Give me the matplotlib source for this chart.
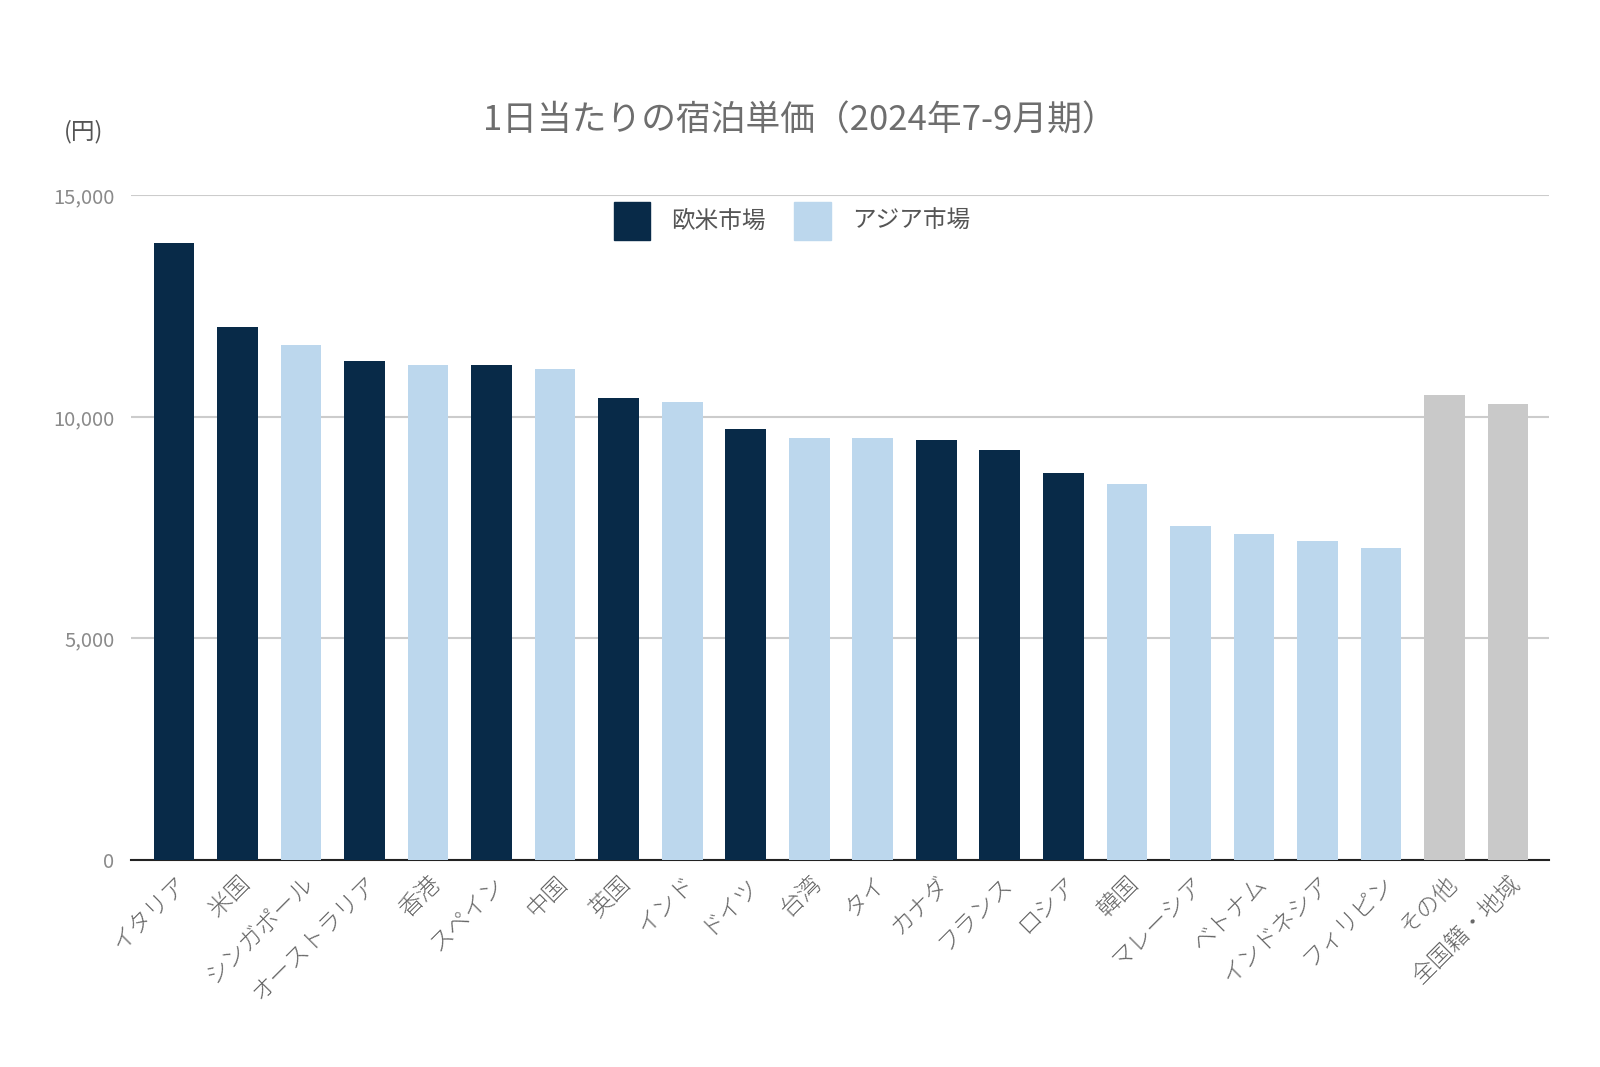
import matplotlib
matplotlib.use("Agg")
import matplotlib.pyplot as plt
from matplotlib.patches import Patch
from matplotlib.ticker import FuncFormatter

plt.rcParams['font.family'] = ['Noto Sans CJK JP', 'DejaVu Sans']

# データ
countries = ['イタリア', '米国', 'シンガポール', 'オーストラリア', '香港', 'スペイン', '中国',
             '英国', 'インド', 'ドイツ', '台湾', 'タイ', 'カナダ', 'フランス', 'ロシア', '韓国',
             'マレーシア', 'ベトナム', 'インドネシア', 'フィリピン', 'その他', '全国籍・地域']
prices = [13920, 12030, 11620, 11270, 11180, 11180, 11090,
          10420, 10330, 9730, 9520, 9520, 9480, 9250, 8740, 8490,
          7540, 7360, 7200, 7040, 10490, 10280]
groups = ['w', 'w', 'a', 'w', 'a', 'w', 'a',
          'w', 'a', 'w', 'a', 'a', 'w', 'w', 'w', 'a',
          'a', 'a', 'a', 'a', 'o', 'o']

col = {'w': '#082a48', 'a': '#bcd7ed', 'o': '#c9c9c9'}
grey = '#8a8a8a'

fig = plt.figure(figsize=(16, 10.67), dpi=100)
ax = fig.add_axes([0.082, 0.194, 0.886, 0.623])

x = range(len(countries))
ax.bar(x, prices, width=0.64, color=[col[g] for g in groups], zorder=3)

ax.set_ylim(0, 15000)
ax.set_xlim(-0.674, len(countries) - 1 + 0.642)
ax.set_yticks([0, 5000, 10000, 15000])
ax.yaxis.set_major_formatter(FuncFormatter(lambda v, p: f'{int(v):,}'))
ax.grid(axis='y', color='#cccccc', lw=1.5, zorder=0)
for s in ['top', 'right', 'left']:
    ax.spines[s].set_visible(False)
ax.spines['bottom'].set_color('#222222')
ax.spines['bottom'].set_linewidth(1.5)
ax.tick_params(axis='y', length=0, labelsize=14.5, labelcolor=grey, pad=12)
ax.tick_params(axis='x', length=0, pad=8)

ax.set_xticks(list(x))
ax.set_xticklabels(countries, rotation=45, ha='right', rotation_mode='anchor',
                   fontsize=17, color='#666666', fontweight='light')

fig.text(0.5, 0.886, '1日当たりの宿泊単価（2024年7-9月期）', ha='center', va='center',
         fontsize=25, color='#6e6e6e')
fig.text(0.052, 0.877, '(円)', ha='center', va='center', fontsize=17, color='#555555')

handles = [Patch(color=col['w'], label='欧米市場'), Patch(color=col['a'], label='アジア市場')]
leg = fig.legend(handles=handles, loc='center', bbox_to_anchor=(0.495, 0.793), ncol=2,
                 frameon=False, fontsize=17, handlelength=1.55, handleheight=2.1,
                 columnspacing=1.2, handletextpad=0.9, labelcolor='#555555')

fig.savefig('out.png', dpi=100, facecolor='white')
